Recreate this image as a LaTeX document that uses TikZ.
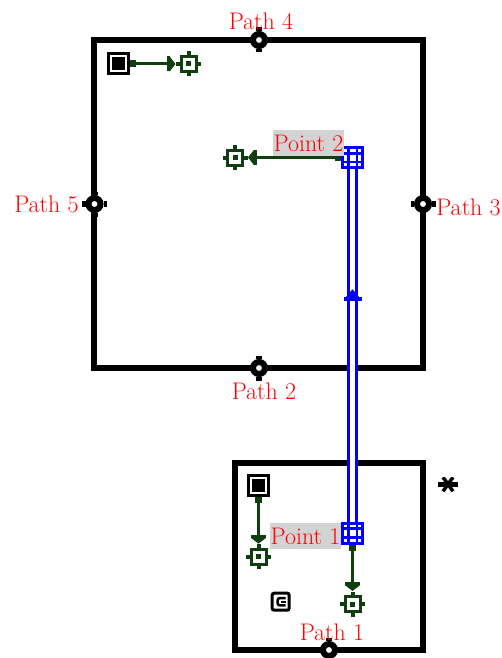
\documentclass[tikz,border=0pt]{standalone}
\usepackage{xcolor}
\usetikzlibrary{shapes.geometric,arrows.meta}
\definecolor{pathgreen}{HTML}{0F3F0F}
\definecolor{labelgray}{HTML}{D3D3D3}

\begin{document}
\begin{tikzpicture}[
    x=1pt, y=-1pt,
    font=\fontsize{24}{28}\selectfont,
    hostbox/.style={rectangle, draw=black, line width=6pt, minimum width=#1},
    ticked/.style 2 args={append after command={
        (\tikzlastnode.north) edge[draw=#1, line width=#2] ++(0,-3.5)
        (\tikzlastnode.south) edge[draw=#1, line width=#2] ++(0,3.5)
        (\tikzlastnode.west) edge[draw=#1, line width=#2] ++(-3.5,0)
        (\tikzlastnode.east) edge[draw=#1, line width=#2] ++(3.5,0)}},
    portnode/.style={circle, draw=black, fill=white, line width=6pt, inner sep=0pt, minimum size=12pt, ticked={black}{6pt}},
    srcbox/.style={rectangle, draw=black, fill=white, line width=3pt, inner sep=0pt, minimum size=20pt,
        path picture={\fill[black] ([shift={(-6.5,-6.5)}]path picture bounding box.center) rectangle ++(13,13);}},
    endbox/.style={rectangle, draw=pathgreen, fill=white, line width=3pt, inner sep=0pt, minimum size=15pt, ticked={pathgreen}{4pt},
        path picture={\fill[pathgreen] ([shift={(-2.5,-2.5)}]path picture bounding box.center) rectangle ++(5,5);}},
    gridbox/.style={rectangle, draw=blue, fill=white, line width=3pt, inner sep=0pt, minimum size=20pt,
        path picture={\foreach \d in {-4.4,4.4} {
            \draw[blue, line width=2.8pt] ([shift={(\d,-12)}]path picture bounding box.center) -- ++(0,24);
            \draw[blue, line width=2.8pt] ([shift={(-12,\d)}]path picture bounding box.center) -- ++(24,0);
        }}},
    arr/.style={{Square[length=6pt,width=7pt]}-{Bar[width=15pt,line width=3pt]Triangle[length=6pt,width=15pt]}, line width=3pt, color=pathgreen, shorten >=4pt},
    bluelink/.style={draw=blue, line width=3.2pt, double=white, double distance=5.5pt},
    plabel/.style={text=red, inner sep=0pt},
    glabel/.style={plabel, fill=labelgray, minimum height=26pt},
  ]
    \useasboundingbox (0,0) rectangle (501,658);

    % Host boxes
    \node[hostbox=329pt, minimum height=328pt] (host2) at (258.5,204) {};
    \node[hostbox=188pt, minimum height=187.5pt] (host1) at (329,556.5) {};

    % Ports on the boxes
    \node[portnode] (path4) at (259,40) {};
    \node[portnode] (path5) at (94.5,204) {};
    \node[portnode] (path3) at (423,204) {};
    \node[portnode] (path2) at (259,368) {};
    \node[portnode] (path1) at (329,650) {};

    % Start and end marks
    \node[srcbox] (src2) at (118,64) {};
    \node[srcbox] (src1) at (258.5,485.7) {};
    \node[endbox] (end2a) at (188.5,64) {};
    \node[endbox] (end2b) at (235,157.5) {};
    \node[endbox] (end1a) at (258.5,556.7) {};
    \node[endbox] (end1b) at (352.5,604) {};

    % Blue link with its arrow
    \node[gridbox] (pt1) at (352.5,533) {};
    \node[gridbox] (pt2) at (352.5,157.5) {};
    \draw[bluelink] (pt1) -- (pt2)
      node[pos=0.631, fill=blue, inner sep=0pt, minimum width=18pt, minimum height=4pt] (barmark) {}
      node[pos=0.645, isosceles triangle, shape border rotate=90, isosceles triangle apex angle=80, fill=blue, inner sep=0pt, minimum size=8pt] (tipmark) {};

    % Green arrows
    \draw[arr] (src2) -- (end2a);
    \draw[arr] (pt2) -- (end2b);
    \draw[arr] (src1) -- (end1a);
    \draw[arr] (pt1) -- (end1b);

    % Icons
    \node[rectangle, rounded corners=2pt, draw=black, line width=3pt, inner sep=0pt, minimum size=17pt,
      path picture={\draw[black, line width=2.5pt] ([shift={(5,-3.6)}]path picture bounding box.center) -- ++(-8,0) -- ++(0,7.2) -- ++(8,0);
        \draw[black, line width=2pt] ([shift={(0,0)}]path picture bounding box.center) -- ++(5,0);}] (bracket) at (280.7,601.7) {};
    \node[rectangle, inner sep=0pt, minimum width=20pt, minimum height=14pt,
      path picture={\draw[black, line width=5pt] ([shift={(-10,0)}]path picture bounding box.center) -- ++(20,0);
        \draw[black, line width=3.5pt] ([shift={(-5,-7)}]path picture bounding box.center) -- ++(10,14);
        \draw[black, line width=3.5pt] ([shift={(5,-7)}]path picture bounding box.center) -- ++(-10,14);}] (star) at (448,484.3) {};

    % Labels
    \node[plabel] (lab4) at (261,21) {Path 4};
    \node[plabel] (lab5) at (46.5,204.5) {Path 5};
    \node[plabel] (lab3) at (468.5,207) {Path 3};
    \node[plabel] (lab2) at (264,391.5) {Path 2};
    \node[plabel] (lab1) at (332,632) {Path 1};
    \node[glabel, minimum width=71pt] (lbp2) at (308.5,143) {Point 2};
    \node[glabel, minimum width=71pt] (lbp1) at (305.5,536) {Point 1};

  \end{tikzpicture}
\end{document}
